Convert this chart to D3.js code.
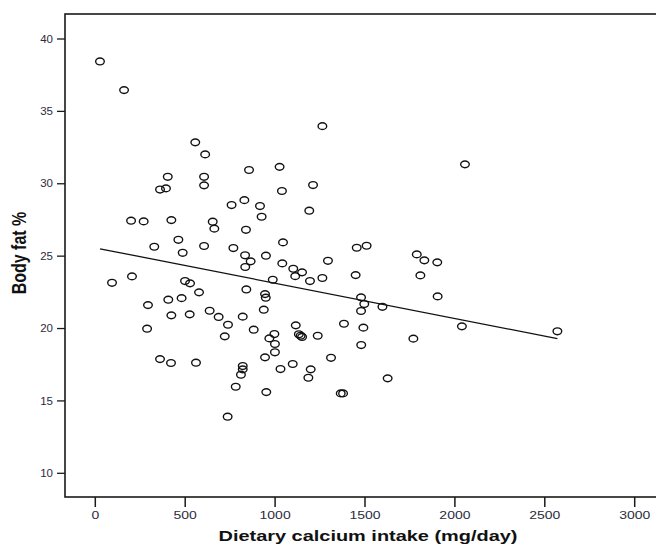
<!DOCTYPE html>
<html>
<head>
<meta charset="utf-8">
<script src="https://cdn.jsdelivr.net/npm/d3@7"></script>
<style>
  body { margin: 0; background: #fff; }
  text { font-family: "Liberation Sans", Arial, sans-serif; }
</style>
</head>
<body>
<div class="scatter"></div>
<script>
// data ============================================================ //
var calcium = [26, 160, 556, 611, 403, 605, 855, 1025, 1263, 2056,
  605, 360, 393, 758, 829, 916, 925, 199, 269, 423,
  653, 662, 838, 462, 328, 486, 605, 768, 833, 864,
  834, 949, 93, 204, 499, 527, 577, 480, 406, 293,
  423, 525, 636, 686, 738, 820, 840, 944, 948, 937,
  987, 288, 720, 881, 996, 968, 999, 1038, 1211, 1190,
  1044, 1454, 1509, 1788, 1830, 1902, 1294, 1040, 1101, 1150,
  1112, 1194, 1263, 1448, 1808, 1904, 1478, 1496, 1478, 1597,
  2039, 1115, 1383, 1491, 1132, 1142, 1150, 1237, 1479, 1769,
  360, 421, 560, 944, 999, 820, 820, 810, 781, 951,
  736, 1030, 1098, 1198, 1185, 1311, 1626, 1365, 1378, 2570];

var bodyFat = [38.45, 36.47, 32.86, 32.03, 30.48, 30.48, 30.95, 31.17, 33.98, 31.34,
  29.89, 29.6, 29.68, 28.53, 28.87, 28.46, 27.72, 27.45, 27.4, 27.49,
  27.38, 26.9, 26.82, 26.13, 25.65, 25.23, 25.7, 25.56, 25.06, 24.64,
  24.25, 25.03, 23.16, 23.6, 23.28, 23.12, 22.5, 22.1, 21.99, 21.62,
  20.91, 20.98, 21.23, 20.8, 20.26, 20.82, 22.7, 22.38, 22.13, 21.3,
  23.37, 19.99, 19.46, 19.92, 19.62, 19.32, 18.93, 29.5, 29.91, 28.14,
  25.95, 25.58, 25.72, 25.12, 24.71, 24.57, 24.68, 24.5, 24.13, 23.88,
  23.62, 23.28, 23.49, 23.69, 23.67, 22.22, 22.15, 21.69, 21.21, 21.5,
  20.15, 20.22, 20.33, 20.06, 19.6, 19.5, 19.42, 19.5, 18.86, 19.3,
  17.89, 17.62, 17.64, 18.01, 18.36, 17.41, 17.18, 16.81, 15.98, 15.61,
  13.91, 17.2, 17.55, 17.18, 16.6, 17.98, 16.56, 15.52, 15.52, 19.81];

// fitted regression line (end points)
var fitX = [26, 2570];
var fitY = [25.51, 19.3];

var xTicks = [0, 500, 1000, 1500, 2000, 2500, 3000];
var yTicks = [10, 15, 20, 25, 30, 35, 40];

var xTitle = "Dietary calcium intake (mg/day)";
var yTitle = "Body fat %";

// ================================================================== //

var width = 656, height = 545;
var frame = { left: 65, top: 14, right: 662, bottom: 497 };

var svg = d3.select(".scatter")
  .append("svg")
  .attr("width", width)
  .attr("height", height);

var x = d3.scaleLinear().domain([0, 3000]).range([95.3, 634.7]);
var y = d3.scaleLinear().domain([10, 40]).range([473.3, 39]);

// box
svg.append("rect")
  .attr("x", frame.left)
  .attr("y", frame.top)
  .attr("width", frame.right - frame.left)
  .attr("height", frame.bottom - frame.top)
  .attr("fill", "none")
  .attr("stroke", "#1a1a1a")
  .attr("stroke-width", 1.6);

// x axis ticks
var xaxis = svg.append("g");
xaxis.selectAll("line").data(xTicks).enter()
  .append("line")
  .attr("x1", function (d) { return x(d); })
  .attr("x2", function (d) { return x(d); })
  .attr("y1", frame.bottom)
  .attr("y2", frame.bottom + 10)
  .attr("stroke", "#1a1a1a")
  .attr("stroke-width", 1.5);
xaxis.selectAll("text").data(xTicks).enter()
  .append("text")
  .attr("transform", function (d) {
    return "translate(" + x(d) + ",519) scale(1.4,1)";
  })
  .attr("text-anchor", "middle")
  .attr("font-size", "10px")
  .attr("fill", "#2b2b3d")
  .text(function (d) { return d; });

// y axis ticks
var yaxis = svg.append("g");
yaxis.selectAll("line").data(yTicks).enter()
  .append("line")
  .attr("x1", frame.left - 8)
  .attr("x2", frame.left)
  .attr("y1", function (d) { return y(d); })
  .attr("y2", function (d) { return y(d); })
  .attr("stroke", "#1a1a1a")
  .attr("stroke-width", 1.3);
yaxis.selectAll("text").data(yTicks).enter()
  .append("text")
  .attr("transform", function (d) {
    return "translate(53," + (y(d) + 3.6) + ") scale(1.15,1)";
  })
  .attr("text-anchor", "end")
  .attr("font-size", "10px")
  .attr("fill", "#2b2b3d")
  .text(function (d) { return d; });

// titles
svg.append("text")
  .attr("transform", "translate(368,541) scale(1.33,1)")
  .attr("text-anchor", "middle")
  .attr("font-size", "15px")
  .attr("font-weight", "bold")
  .attr("fill", "#111")
  .text(xTitle);

svg.append("text")
  .attr("transform", "translate(26,253) scale(1.25,1) rotate(-90)")
  .attr("text-anchor", "middle")
  .attr("font-size", "16px")
  .attr("font-weight", "bold")
  .attr("fill", "#111")
  .text(yTitle);

// regression line
svg.append("line")
  .attr("x1", x(fitX[0]))
  .attr("y1", y(fitY[0]))
  .attr("x2", x(fitX[1]))
  .attr("y2", y(fitY[1]))
  .attr("stroke", "#111")
  .attr("stroke-width", 1.3);

// points
var pts = d3.zip(calcium, bodyFat);
svg.append("g").selectAll("ellipse").data(pts).enter()
  .append("ellipse")
  .attr("cx", function (d) { return x(d[0]); })
  .attr("cy", function (d) { return y(d[1]); })
  .attr("rx", 4.3)
  .attr("ry", 3.4)
  .attr("fill", "none")
  .attr("stroke", "#111")
  .attr("stroke-width", 1.4);
</script>
</body>
</html>
